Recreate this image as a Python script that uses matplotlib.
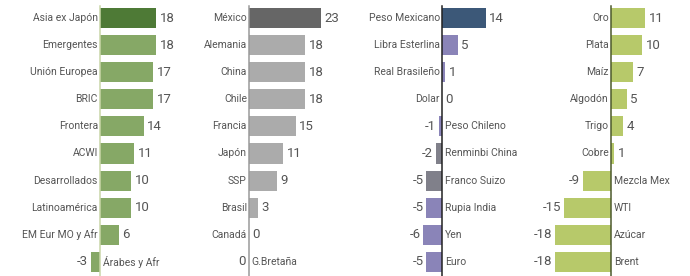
import numpy as np
import matplotlib
matplotlib.use("Agg")
import matplotlib.pyplot as plt

plt.rcParams['font.family'] = ['Roboto', 'DejaVu Sans']

# Datos (rendimiento %)
cat_indices = ["Asia ex Japón", "Emergentes", "Unión Europea", "BRIC", "Frontera",
               "ACWI", "Desarrollados", "Latinoamérica", "EM Eur MO y Afr", "Árabes y Afr"]
val_indices = [18, 18, 17, 17, 14, 11, 10, 10, 6, -3]

cat_bolsas = ["México", "Alemania", "China", "Chile", "Francia",
              "Japón", "SSP", "Brasil", "Canadá", "G.Bretaña"]
val_bolsas = [23, 18, 18, 18, 15, 11, 9, 3, 0, 0]

cat_divisas = ["Peso Mexicano", "Libra Esterlina", "Real Brasileño", "Dolar", "Peso Chileno",
               "Renminbi China", "Franco Suizo", "Rupia India", "Yen", "Euro"]
val_divisas = [14, 5, 1, 0, -1, -2, -5, -5, -6, -5]

cat_materias = ["Oro", "Plata", "Maíz", "Algodón", "Trigo",
                "Cobre", "Mezcla Mex", "WTI", "Azúcar", "Brent"]
val_materias = [11, 10, 7, 5, 4, 1, -9, -15, -18, -18]

# etiquetas con valor cero que van a la derecha del eje
a_la_derecha = {"G.Bretaña"}

W, H = 690, 276
escala = 3.12  # px por punto porcentual
texto = "#555555"

# (categorias, valores, x0, x1, cero en px, color principal, color resto, color linea)
paneles = [
    (cat_indices, val_indices, 0, 172, 100, "#4e7a36", "#86a866", "#c9d6a8"),
    (cat_bolsas, val_bolsas, 172, 345, 249, "#666666", "#ababab", "#9a9a9a"),
    (cat_divisas, val_divisas, 345, 515, 442, "#3c5878", "#8a84b8", "#222222"),
    (cat_materias, val_materias, 515, 690, 611, "#b7c96a", "#b7c96a", "#4d5a2c"),
]

fig = plt.figure(figsize=(W / 100, H / 100), dpi=100)

paso = 27.1
y_primero = 18
for cats, vals, x0, x1, cero, c1, c2, clinea in paneles:
    ax = fig.add_axes([x0 / W, 0, (x1 - x0) / W, 1])
    ax.set_xlim((x0 - cero) / escala, (x1 - cero) / escala)
    ax.set_ylim(9 + (H - y_primero - 9 * paso) / paso, -y_primero / paso)
    ax.axis("off")

    y = np.arange(len(cats))
    colores = [c1] + [c2] * (len(cats) - 1)
    if cats is cat_divisas:
        colores[5] = "#80808a"
        colores[6] = "#80808a"
    ax.barh(y, vals, height=0.74, color=colores, zorder=2)
    ax.plot([0, 0], [-0.45, 9.6], color=clinea, lw=1.1, zorder=3)

    for i, (c, v) in enumerate(zip(cats, vals)):
        derecha = v < 0 or (v == 0 and c in a_la_derecha)
        if derecha:
            ax.annotate(c, (0, i), xytext=(2, 0), textcoords="offset points",
                        ha="left", va="center", fontsize=7.5, color=texto)
            ax.annotate(str(v), (v, i), xytext=(-2, 0), textcoords="offset points",
                        ha="right", va="center", fontsize=9.5, color=texto)
        else:
            ax.annotate(c, (0, i), xytext=(-1.5, 0), textcoords="offset points",
                        ha="right", va="center", fontsize=7.5, color=texto)
            ax.annotate(str(v), (v, i), xytext=(2.5, 0), textcoords="offset points",
                        ha="left", va="center", fontsize=9.5, color=texto)

fig.savefig("out.png", dpi=100)
